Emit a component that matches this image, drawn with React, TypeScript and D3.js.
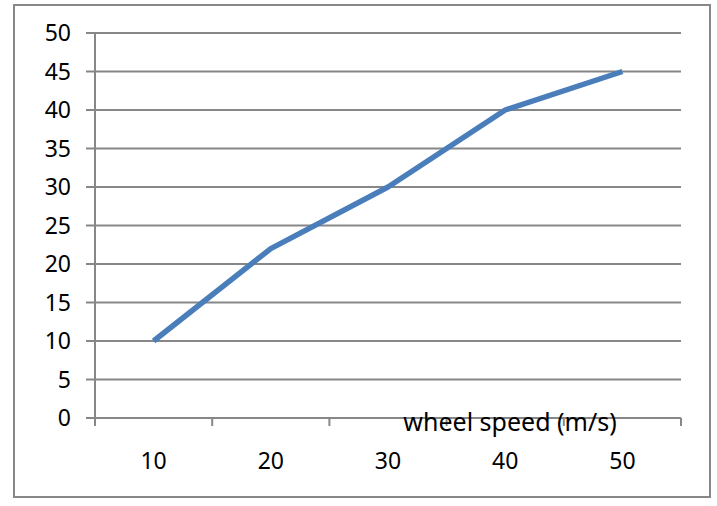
import React, { useEffect, useRef } from 'react';
import * as d3 from 'd3';

const categories = ['10', '20', '30', '40', '50'];
const values = [10, 22, 30, 40, 45];
const yTicks = [0, 5, 10, 15, 20, 25, 30, 35, 40, 45, 50];
const axisTitle = 'wheel speed (m/s)';

function App() {
  const svgRef = useRef<SVGSVGElement | null>(null);

  useEffect(() => {
    const svg = d3.select(svgRef.current);
    svg.selectAll('*').remove();

    const left = 95, right = 681, top = 33, bottom = 418;
    const font = '"Noto Sans", "Open Sans", sans-serif';
    const grey = '#878787';

    svg.append('rect')
      .attr('x', 14).attr('y', 5)
      .attr('width', 696).attr('height', 492)
      .attr('fill', '#fff').attr('stroke', grey).attr('stroke-width', 2);

    const x = d3.scaleBand().domain(categories).range([left, right]);
    const y = d3.scaleLinear().domain([0, 50]).range([bottom, top]);

    // gridlines + y ticks
    svg.append('g').selectAll('line').data(yTicks).enter().append('line')
      .attr('x1', left - 9).attr('x2', right)
      .attr('y1', d => y(d)).attr('y2', d => y(d))
      .attr('stroke', grey).attr('stroke-width', 2);

    svg.append('g').selectAll('text').data(yTicks).enter().append('text')
      .attr('x', 71).attr('y', d => y(d)).attr('dy', '0.36em')
      .attr('text-anchor', 'end')
      .attr('font-family', font).attr('font-size', 23).attr('fill', '#000')
      .text(d => d);

    // y axis line
    svg.append('line')
      .attr('x1', left).attr('x2', left).attr('y1', top).attr('y2', bottom + 8)
      .attr('stroke', grey).attr('stroke-width', 2);

    // x ticks between categories
    const edges = categories.map(c => (x(c) as number) + x.bandwidth());
    svg.append('g').selectAll('line').data(edges).enter().append('line')
      .attr('x1', d => d).attr('x2', d => d).attr('y1', bottom).attr('y2', bottom + 8)
      .attr('stroke', grey).attr('stroke-width', 2);

    svg.append('g').selectAll('text').data(categories).enter().append('text')
      .attr('x', d => (x(d) as number) + x.bandwidth() / 2).attr('y', 469)
      .attr('text-anchor', 'middle')
      .attr('font-family', font).attr('font-size', 23).attr('fill', '#000')
      .text(d => d);

    const line = d3.line<number>()
      .x((_, i) => (x(categories[i]) as number) + x.bandwidth() / 2)
      .y(d => y(d));

    svg.append('path').datum(values)
      .attr('d', line)
      .attr('fill', 'none').attr('stroke', '#4a7ebb').attr('stroke-width', 5.5)
      .attr('stroke-linejoin', 'round');

    svg.append('text')
      .attr('x', 510).attr('y', 431)
      .attr('text-anchor', 'middle')
      .attr('font-family', font).attr('font-size', 25).attr('fill', '#000')
      .text(axisTitle);
  }, []);

  return (
    <svg
      ref={svgRef}
      width={717}
      height={506}
      style={{ position: 'fixed', left: 0, top: 0, display: 'block' }}
    />
  );
}

export default App;
